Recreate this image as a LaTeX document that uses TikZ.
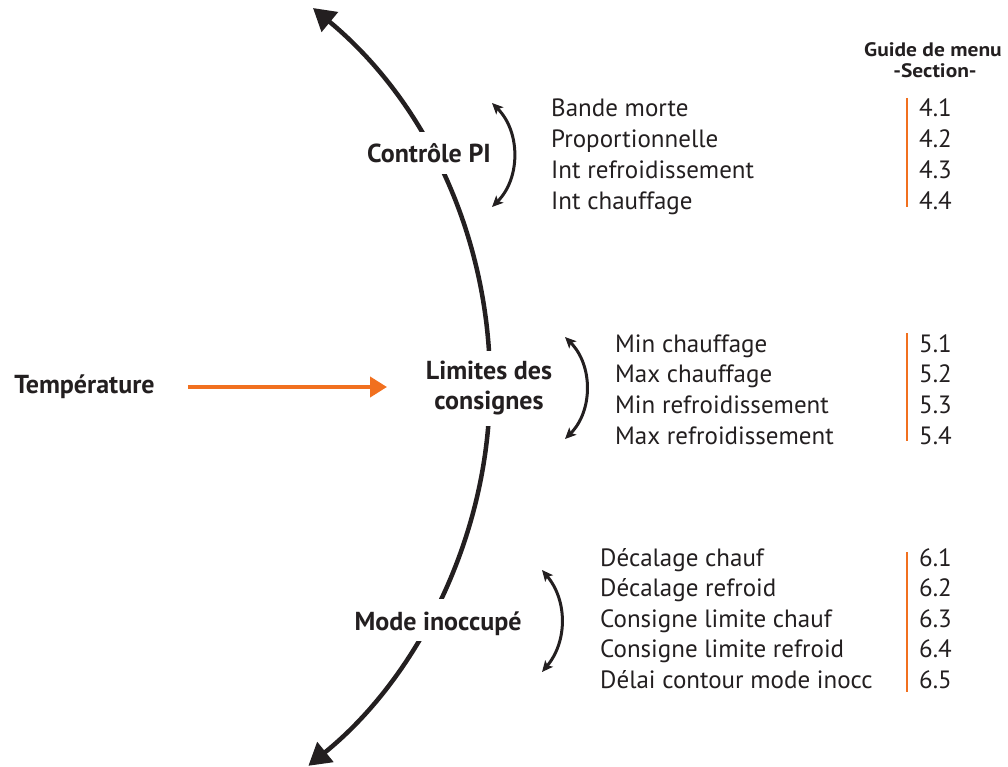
\documentclass[tikz,border=0pt]{standalone}
\usepackage{fontspec}
\setmainfont{PT Sans}
\newfontfamily\headfont[FakeStretch=1.1]{PT Sans Bold}
\usetikzlibrary{arrows.meta}
\definecolor{ink}{HTML}{231F20}
\definecolor{accent}{HTML}{F1701F}

\begin{document}
\begin{tikzpicture}[x=1pt,y=-1pt,
  every node/.style={text=ink, inner sep=0pt},
  item/.style={anchor=base west, font=\fontsize{25}{30}\selectfont},
  head/.style={anchor=base, font=\headfont\fontsize{19.5}{22}\selectfont},
  lab/.style={font=\bfseries\fontsize{26}{30}\selectfont},
  hub/.style={lab, fill=white, inner xsep=3pt},
  hubone/.style={hub, anchor=base, text height=24pt, text depth=4pt, inner ysep=7pt},
  mainarc/.style={draw=ink, line width=4.5pt,
    {Triangle[length=22pt,width=25pt]}-{Triangle[length=22pt,width=25pt]}},
  swing/.style={draw=ink, line width=3pt,
    {Stealth[length=11pt,width=10pt,inset=2.5pt]}-{Stealth[length=11pt,width=10pt,inset=2.5pt]}},
  bar/.style={draw=accent, line width=2.2pt},
  feed/.style={draw=accent, line width=4pt, -{Triangle[length=17pt,width=20pt]}},
]
\useasboundingbox (0,0) rectangle (1008,767);

% large sweeping arc through the three control groups
\coordinate (hubc) at (0,385);
\draw[mainarc] (hubc) ++(-50.3:490) arc[start angle=-50.3, end angle=51, radius=490];

% group labels sitting on the arc
\node[hubone] (pi) at (429,163) {Contrôle PI};
\node[hub, align=center, minimum height=75pt] (lim) at (489,388.5) {Limites des\\consignes};
\node[hubone] (inocc) at (438,630) {Mode inoccupé};

% temperature input
\node[lab, anchor=base] (temp) at (84.5,393) {Température};
\coordinate (feedend) at (387,387);
\draw[feed, shorten <=33pt] (temp.east |- feedend) -- (feedend);

% column header
\node[head] (hd1) at (933,57) {Guide de menu};
\node[head] (hd2) at (935,78) {-Section-};

% group 4
\foreach \t [count=\i] in {Bande morte, Proportionnelle, Int refroidissement, Int chauffage}{
  \node[item] (g4t\i) at (551,{117+30.67*(\i-1)}) {\t};
  \node[item] (g4n\i) at (919,{117+30.67*(\i-1)}) {4.\i};
}
\coordinate (b4a) at (907,98);  \coordinate (b4b) at (907,207);
\draw[bar] (b4a) -- (b4b);
\coordinate (s4a) at (492,103); \coordinate (s4b) at (492,207);
\draw[swing] (s4a) to[bend left=45] (s4b);

% group 5
\foreach \t [count=\i] in {Min chauffage, Max chauffage, Min refroidissement, Max refroidissement}{
  \node[item] (g5t\i) at (615,{352+30.67*(\i-1)}) {\t};
  \node[item] (g5n\i) at (919,{352+30.67*(\i-1)}) {5.\i};
}
\coordinate (b5a) at (907,333); \coordinate (b5b) at (907,441);
\draw[bar] (b5a) -- (b5b);
\coordinate (s5a) at (565,337); \coordinate (s5b) at (565,439);
\draw[swing] (s5a) to[bend left=45] (s5b);

% group 6
\foreach \t [count=\i] in {Décalage chauf, Décalage refroid, Consigne limite chauf, Consigne limite refroid, Délai contour mode inocc}{
  \node[item] (g6t\i) at (600,{566+30.5*(\i-1)}) {\t};
  \node[item] (g6n\i) at (919,{566+30.5*(\i-1)}) {6.\i};
}
\coordinate (b6a) at (907,552); \coordinate (b6b) at (907,692);
\draw[bar] (b6a) -- (b6b);
\coordinate (s6a) at (542,570); \coordinate (s6b) at (542,672);
\draw[swing] (s6a) to[bend left=40] (s6b);
\end{tikzpicture}
\end{document}
